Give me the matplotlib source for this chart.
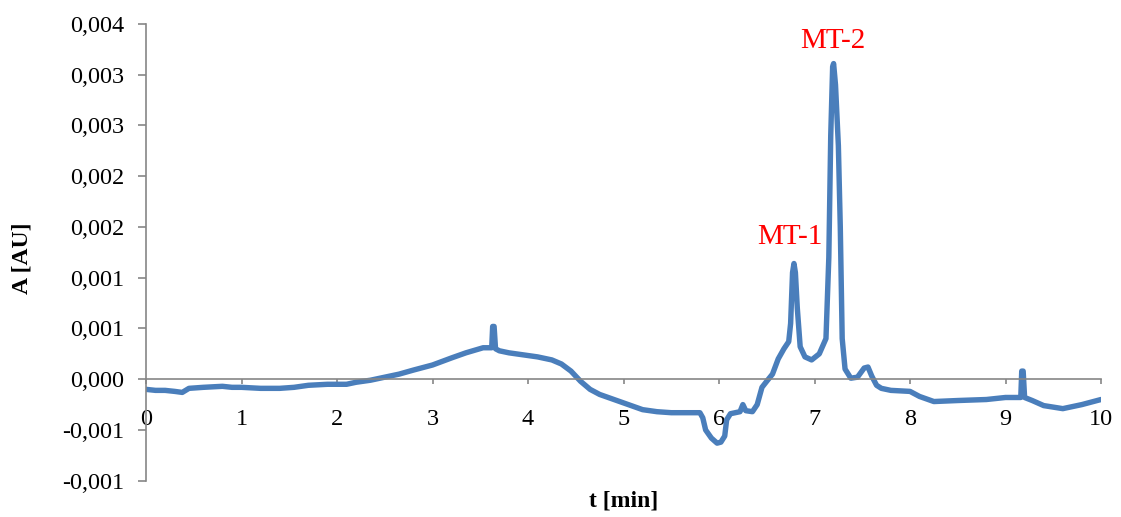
import matplotlib
matplotlib.use("Agg")
import matplotlib.pyplot as plt
from matplotlib.ticker import FuncFormatter

# electropherogram
t_min = [0.00, 0.10, 0.20, 0.30, 0.38, 0.45, 0.60, 0.80, 0.90, 1.00,
         1.20, 1.40, 1.55, 1.70, 1.90, 2.10, 2.20, 2.35, 2.50, 2.65,
         2.80, 3.00, 3.20, 3.35, 3.53, 3.58, 3.62, 3.63, 3.645, 3.66,
         3.70, 3.80, 3.95, 4.10, 4.25, 4.35, 4.45, 4.55, 4.65, 4.75,
         4.90, 5.05, 5.20, 5.35, 5.50, 5.80, 5.83, 5.86, 5.92, 5.98,
         6.02, 6.06, 6.08, 6.12, 6.22, 6.25, 6.28, 6.35, 6.40, 6.45,
         6.50, 6.56, 6.62, 6.68, 6.73, 6.75, 6.77, 6.785, 6.80, 6.82,
         6.85, 6.90, 6.97, 7.05, 7.12, 7.15, 7.17, 7.19, 7.20, 7.22,
         7.25, 7.27, 7.29, 7.32, 7.38, 7.45, 7.52, 7.56, 7.60, 7.65,
         7.70, 7.80, 8.00, 8.10, 8.25, 8.50, 8.80, 9.00, 9.16, 9.17,
         9.185, 9.20, 9.28, 9.40, 9.60, 9.80, 10.0]
absorb = [-0.00010, -0.00011, -0.00011, -0.00012, -0.00013, -0.00009, -0.00008, -0.00007, -0.00008, -0.00008,
          -0.00009, -0.00009, -0.00008, -0.00006, -0.00005, -0.00005, -0.00003, -0.00001, 0.00002, 0.00005,
          0.00009, 0.00014, 0.00021, 0.00026, 0.00031, 0.00031, 0.00031, 0.00052, 0.00052, 0.00030,
          0.00028, 0.00026, 0.00024, 0.00022, 0.00019, 0.00015, 0.00008, -0.00002, -0.00010, -0.00015,
          -0.00020, -0.00025, -0.00030, -0.00032, -0.00033, -0.00033, -0.00038, -0.00050, -0.00058, -0.00063,
          -0.00062, -0.00056, -0.00040, -0.00034, -0.00032, -0.00025, -0.00031, -0.00032, -0.00025, -0.00008,
          -0.00002, 0.00005, 0.00020, 0.00030, 0.00037, 0.00055, 0.00105, 0.00114, 0.00105, 0.00070,
          0.00032, 0.00022, 0.00019, 0.00025, 0.00040, 0.00120, 0.00240, 0.00308, 0.00311, 0.00290,
          0.00230, 0.00150, 0.00040, 0.00010, 0.00001, 0.00002, 0.00011, 0.00012, 0.00003, -0.00006,
          -0.00009, -0.00011, -0.00012, -0.00017, -0.00022, -0.00021, -0.00020, -0.00018, -0.00018, 0.00008,
          0.00008, -0.00018, -0.00021, -0.00026, -0.00029, -0.00025, -0.00020]

peak_names = ["MT-1", "MT-2"]
peak_t = [6.74, 7.19]
peak_y = [0.00140, 0.00333]

y_ticks = [-0.001, -0.0005, 0.0, 0.0005, 0.001, 0.0015, 0.002, 0.0025, 0.003, 0.0035]
x_ticks = list(range(0, 11))

plt.rcParams['font.family'] = ['Liberation Serif', 'DejaVu Serif']
axis_grey = "#868686"

fig = plt.figure(figsize=(11.21, 5.17), dpi=100)
ax = fig.add_axes([146 / 1121, (517 - 480.7) / 517, 955 / 1121, 456.7 / 517])

ax.plot(t_min, absorb, color="#4A7EBB", lw=3.9, solid_joinstyle="round",
        solid_capstyle="round")

ax.set_xlim(0, 10)
ax.set_ylim(-0.001, 0.0035)
ax.set_xticks(x_ticks)
ax.set_yticks(y_ticks)


def comma_fmt(v, pos):
    # Excel rounds half away from zero, so 0.0005 shows as 0,001
    s = "%.3f" % (round(abs(v) * 1000 + 1e-9) / 1000)
    if v < -1e-12:
        s = "-" + s
    return s.replace(".", ",")


ax.yaxis.set_major_formatter(FuncFormatter(comma_fmt))

for side in ["top", "right"]:
    ax.spines[side].set_visible(False)
ax.spines["left"].set_color(axis_grey)
ax.spines["left"].set_linewidth(1.2)
ax.spines["bottom"].set_position(("data", 0))
ax.spines["bottom"].set_color(axis_grey)
ax.spines["bottom"].set_linewidth(1.2)

ax.tick_params(axis="y", direction="out", length=5.5, width=1.2, color=axis_grey,
               labelsize=17.5, pad=10)
ax.tick_params(axis="x", direction="out", length=3.6, width=1.2, color=axis_grey,
               labelsize=17.5, pad=18)

for name, tx, ty in zip(peak_names, peak_t, peak_y):
    ax.text(tx, ty, name, color="red", fontsize=21, ha="center", va="center")

fig.text(624 / 1121, 1 - 501 / 517, "t [min]", fontsize=17, fontweight="bold",
         ha="center", va="center")
fig.text(22 / 1121, 1 - 258 / 517, "A [AU]", fontsize=17, fontweight="bold",
         ha="center", va="center", rotation=90)

fig.savefig("out.png", dpi=100)
